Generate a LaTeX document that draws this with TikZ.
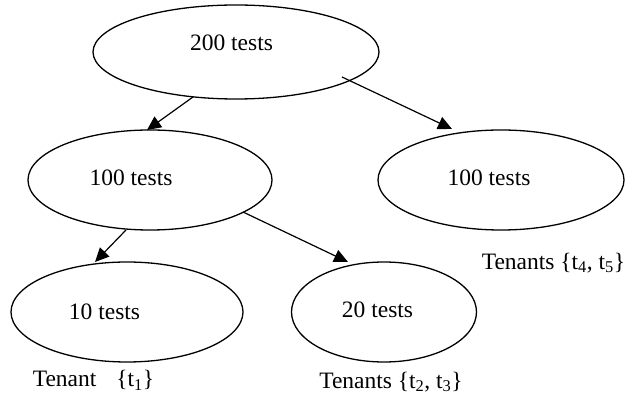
\documentclass[tikz,border=0pt]{standalone}
\usepackage{fontspec}
\setmainfont{Liberation Serif}
\usetikzlibrary{shapes.geometric, arrows.meta}

\tikzset{
  tnode/.style={draw, ellipse, line width=1.3pt, inner sep=0pt},
  ttext/.style={inner sep=0pt},
  arr/.style={-{Triangle[length=14pt,width=13pt]}, line width=1.2pt}
}

\begin{document}
\begin{tikzpicture}[x=1pt, y=1pt, font=\fontsize{23.5}{28}\selectfont]
      \useasboundingbox (0,0) rectangle (635,396);
      % ellipses
      \node[tnode, minimum width=286pt, minimum height=94pt] (top) at (236,344) {};
      \node[tnode, minimum width=244pt, minimum height=100pt] (l) at (150,216) {};
      \node[tnode, minimum width=246pt, minimum height=100pt] (r) at (501,216) {};
      \node[tnode, minimum width=232pt, minimum height=100pt] (ll) at (127,84) {};
      \node[tnode, minimum width=185pt, minimum height=100pt] (lr) at (384,84) {};
      % texts inside the ellipses
      \node[ttext] (toptext) at (231.5,353) {200 tests};
      \node[ttext] (ltext) at (131,218) {100 tests};
      \node[ttext] (rtext) at (489,218) {100 tests};
      \node[ttext] (lltext) at (104.5,84) {10 tests};
      \node[ttext] (lrtext) at (377.5,86) {20 tests};
      % tenants
      \node[ttext] (rten) at (553.5,133) {Tenants \{t\textsubscript{4}, t\textsubscript{5}\}};
      \node[ttext] (lrten) at (391,14) {Tenants \{t\textsubscript{2}, t\textsubscript{3}\}};
      \node[ttext] (llten) at (93.5,16) {Tenant\hspace{20pt}\{t\textsubscript{1}\}};
      % arrows
      \draw[arr] ([shift={(-43pt,-45pt)}]top.center) -- ([shift={(-3pt,50pt)}]l.center);
      \draw[arr] ([shift={(106pt,-25pt)}]top.center) -- ([shift={(-49pt,51pt)}]r.center);
      \draw[arr] ([shift={(-24pt,-50pt)}]l.center) -- ([shift={(-32pt,50pt)}]ll.center);
      \draw[arr] ([shift={(93pt,-32pt)}]l.center) -- ([shift={(-36pt,50pt)}]lr.center);
    \end{tikzpicture}
\end{document}
